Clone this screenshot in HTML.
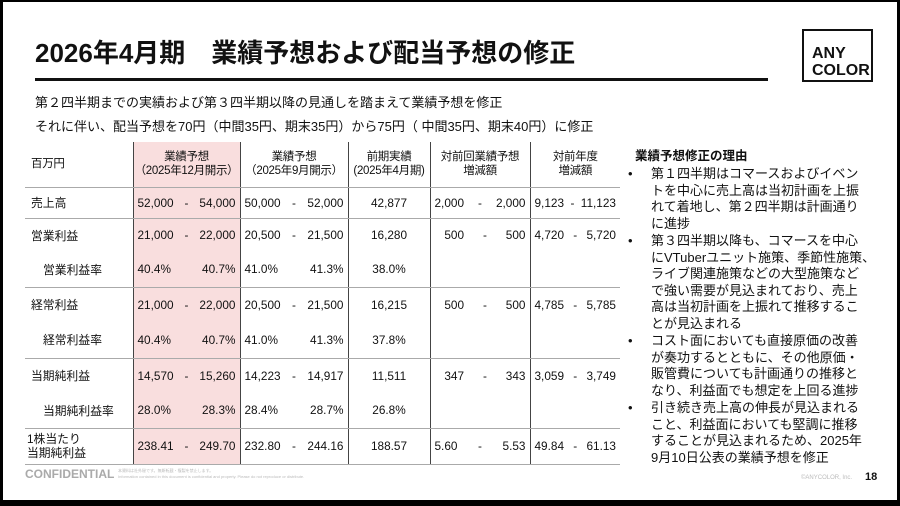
<!DOCTYPE html>
<html><head><meta charset="utf-8"><style>
*{margin:0;padding:0;box-sizing:border-box}
body{width:900px;height:506px;background:#000;position:relative;overflow:hidden;font-family:"Liberation Sans","Noto Sans CJK JP",sans-serif;color:#111}
#pg{position:absolute;left:3px;top:2px;width:894px;height:498px;background:#fff}
.a{position:absolute;white-space:nowrap}
table{position:absolute;left:22px;top:140px;border-collapse:collapse;font-size:11.8px;table-layout:fixed;width:595px}
td{padding:0;vertical-align:middle;white-space:nowrap;overflow:hidden}
td.c{border-left:1px solid #444}
tr.b td{border-bottom:1px solid #aaa}
.pk{background:#f9dede}
.r{display:flex;justify-content:space-between;padding:0 4px}
.ct{text-align:center}
.hd td{text-align:center;font-size:11.5px;line-height:14px;letter-spacing:-0.3px}
ul{list-style:none}
li{position:relative;padding-left:23px;margin-bottom:1px;white-space:nowrap}
li:before{content:"•";position:absolute;left:0}
</style></head><body><div id="pg">
<div class="a" style="left:32px;top:31px;font-size:26px;font-weight:bold">2026年4月期　業績予想および配当予想の修正</div>
<div class="a" style="left:32px;top:76px;width:733px;height:3px;background:#111"></div>
<div class="a" style="left:799px;top:27px;width:71px;height:53px;border:2px solid #111;font-weight:bold;font-size:16px;line-height:17px;padding:14px 0 0 8px">ANY<br>COLOR</div>
<div class="a" style="left:32px;top:90px;font-size:13px">第２四半期までの実績および第３四半期以降の見通しを踏まえて業績予想を修正</div>
<div class="a" style="left:32px;top:114px;font-size:13px">それに伴い、配当予想を70円（中間35円、期末35円）から75円（ 中間35円、期末40円）に修正</div>
<table>
<colgroup><col style="width:108px"><col style="width:107px"><col style="width:108px"><col style="width:82px"><col style="width:100px"><col style="width:90px"></colgroup>
<tr class="hd b" style="height:45px"><td style="text-align:left;padding-left:6px">百万円</td><td class="c pk">業績予想<br>（2025年12月開示）</td><td class="c">業績予想<br>（2025年9月開示）</td><td class="c">前期実績<br>(2025年4月期)</td><td class="c">対前回業績予想<br>増減額</td><td class="c">対前年度<br>増減額</td></tr>
<tr class="b" style="height:31px"><td style="padding-left:6px">売上高</td><td class="c pk"><div class="r"><span>52,000</span><span>-</span><span>54,000</span></div></td><td class="c"><div class="r"><span>50,000</span><span>-</span><span>52,000</span></div></td><td class="c ct">42,877</td><td class="c"><div class="r"><span>2,000</span><span>-</span><span>2,000</span></div></td><td class="c"><div class="r"><span>9,123</span><span>-</span><span>11,123</span></div></td></tr>
<tr style="height:34px"><td style="padding-left:6px">営業利益</td><td class="c pk"><div class="r"><span>21,000</span><span>-</span><span>22,000</span></div></td><td class="c"><div class="r"><span>20,500</span><span>-</span><span>21,500</span></div></td><td class="c ct">16,280</td><td class="c"><div class="r"><span>&nbsp;&nbsp;&nbsp;500</span><span>-</span><span>500</span></div></td><td class="c"><div class="r"><span>4,720</span><span>-</span><span>5,720</span></div></td></tr>
<tr class="b" style="height:35px"><td style="padding-left:18px">営業利益率</td><td class="c pk"><div class="r"><span>40.4%</span><span>40.7%</span></div></td><td class="c"><div class="r"><span>41.0%</span><span>41.3%</span></div></td><td class="c ct">38.0%</td><td class="c"></td><td class="c"></td></tr>
<tr style="height:35px"><td style="padding-left:6px">経常利益</td><td class="c pk"><div class="r"><span>21,000</span><span>-</span><span>22,000</span></div></td><td class="c"><div class="r"><span>20,500</span><span>-</span><span>21,500</span></div></td><td class="c ct">16,215</td><td class="c"><div class="r"><span>&nbsp;&nbsp;&nbsp;500</span><span>-</span><span>500</span></div></td><td class="c"><div class="r"><span>4,785</span><span>-</span><span>5,785</span></div></td></tr>
<tr class="b" style="height:36px"><td style="padding-left:18px">経常利益率</td><td class="c pk"><div class="r"><span>40.4%</span><span>40.7%</span></div></td><td class="c"><div class="r"><span>41.0%</span><span>41.3%</span></div></td><td class="c ct">37.8%</td><td class="c"></td><td class="c"></td></tr>
<tr style="height:35px"><td style="padding-left:6px">当期純利益</td><td class="c pk"><div class="r"><span>14,570</span><span>-</span><span>15,260</span></div></td><td class="c"><div class="r"><span>14,223</span><span>-</span><span>14,917</span></div></td><td class="c ct">11,511</td><td class="c"><div class="r"><span>&nbsp;&nbsp;&nbsp;347</span><span>-</span><span>343</span></div></td><td class="c"><div class="r"><span>3,059</span><span>-</span><span>3,749</span></div></td></tr>
<tr class="b" style="height:35px"><td style="padding-left:18px">当期純利益率</td><td class="c pk"><div class="r"><span>28.0%</span><span>28.3%</span></div></td><td class="c"><div class="r"><span>28.4%</span><span>28.7%</span></div></td><td class="c ct">26.8%</td><td class="c"></td><td class="c"></td></tr>
<tr class="b" style="height:36px"><td style="padding-left:2px;line-height:14px">1株当たり<br>当期純利益</td><td class="c pk"><div class="r"><span>238.41</span><span>-</span><span>249.70</span></div></td><td class="c"><div class="r"><span>232.80</span><span>-</span><span>244.16</span></div></td><td class="c ct">188.57</td><td class="c"><div class="r"><span>5.60</span><span>-</span><span>5.53</span></div></td><td class="c"><div class="r"><span>49.84</span><span>-</span><span>61.13</span></div></td></tr>
</table>
<div class="a" style="left:632px;top:143px;font-size:12.5px;font-weight:bold">業績予想修正の理由</div>
<ul class="a" style="left:625px;top:164px;width:250px;font-size:13px;line-height:16.5px">
<li>第１四半期はコマースおよびイベン<br>トを中心に売上高は当初計画を上振<br>れて着地し、第２四半期は計画通り<br>に進捗</li>
<li>第３四半期以降も、コマースを中心<br>にVTuberユニット施策、季節性施策、<br>ライブ関連施策などの大型施策など<br>で強い需要が見込まれており、売上<br>高は当初計画を上振れて推移するこ<br>とが見込まれる</li>
<li>コスト面においても直接原価の改善<br>が奏功するとともに、その他原価・<br>販管費についても計画通りの推移と<br>なり、利益面でも想定を上回る進捗</li>
<li>引き続き売上高の伸長が見込まれる<br>こと、利益面においても堅調に推移<br>することが見込まれるため、2025年<br>9月10日公表の業績予想を修正</li>
</ul>
<div class="a" style="left:22px;top:465px;font-size:12px;font-weight:bold;color:#aaa">CONFIDENTIAL</div>
<div class="a" style="left:115px;top:466px;font-size:4px;color:#bbb;line-height:6px">本資料は社外秘です。無断転載・複製を禁止します。<br>Information contained in this document is confidential and property. Please do not reproduce or distribute.</div>
<div class="a" style="left:798px;top:473px;font-size:6px;color:#bbb">©ANYCOLOR, Inc.</div>
<div class="a" style="left:862px;top:469px;font-size:11px;font-weight:bold">18</div>
</div></body></html>
